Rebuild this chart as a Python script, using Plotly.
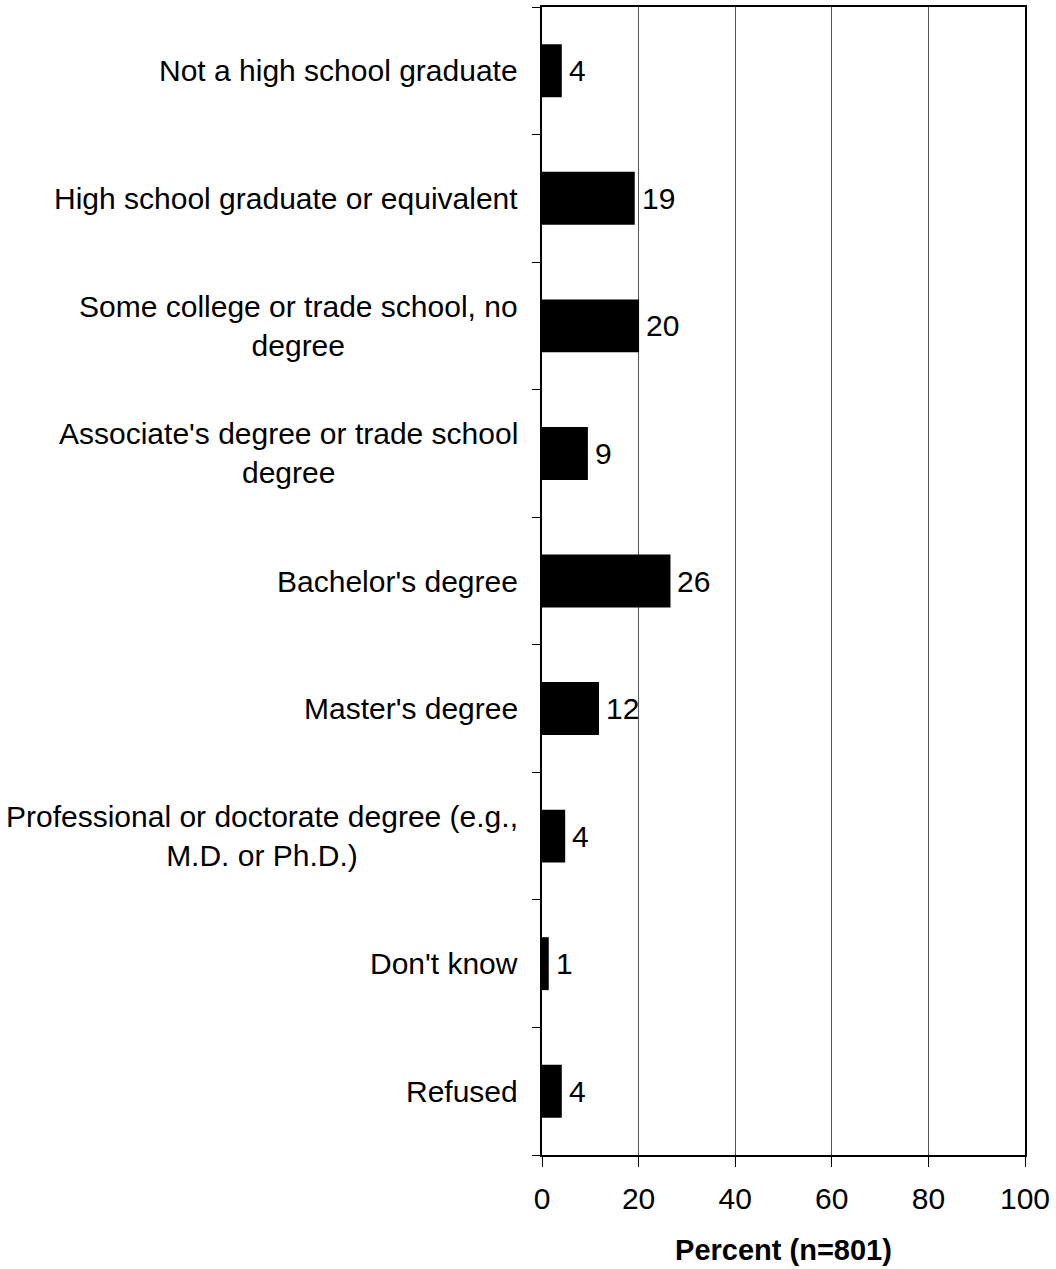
import plotly.graph_objects as go

categories = [
    "Not a high school graduate",
    "High school graduate or equivalent",
    "Some college or trade school, no<br>degree",
    "Associate's degree or trade school<br>degree",
    "Bachelor's degree",
    "Master's degree",
    "Professional or doctorate degree (e.g.,<br>M.D. or Ph.D.)",
    "Don't know",
    "Refused",
]
values = [4.1, 19.2, 20.1, 9.5, 26.6, 11.8, 4.8, 1.4, 4.1]
value_labels = ["4", "19", "20", "9", "26", "12", "4", "1", "4"]
x_ticks = [0, 20, 40, 60, 80, 100]
x_title = "Percent (n=801)"

FONT = "Liberation Sans, Arial, sans-serif"
FS = 30

fig = go.Figure()
fig.add_trace(go.Bar(
    x=values, y=list(range(len(categories))), orientation="h",
    marker=dict(color="black", line=dict(width=0)),
    hoverinfo="skip",
))

for i, (c, v, lab) in enumerate(zip(categories, values, value_labels)):
    fig.add_annotation(x=0, xref="paper", y=i, yref="y", text=c,
                       xanchor="right", yanchor="middle", align="center",
                       xshift=-22, showarrow=False,
                       font=dict(family=FONT, size=FS, color="black"))
    fig.add_annotation(x=v, xref="x", y=i, yref="y", text=lab,
                       xanchor="left", yanchor="middle", xshift=5,
                       showarrow=False,
                       font=dict(family=FONT, size=FS, color="black"))

fig.update_layout(
    width=1056, height=1269,
    margin=dict(l=542, r=31, t=7, b=114),
    paper_bgcolor="white", plot_bgcolor="white",
    bargap=0.585, showlegend=False,
    font=dict(family=FONT, size=FS, color="black"),
)
fig.update_xaxes(
    range=[0, 100], tickvals=x_ticks, ticktext=[str(t) for t in x_ticks],
    ticks="outside", ticklen=10, tickwidth=1, tickcolor="black",
    ticklabelstandoff=6, automargin=False,
    showgrid=True, gridcolor="#555555", gridwidth=1,
    showline=True, linecolor="black", linewidth=2, mirror=True,
    zeroline=False,
    tickfont=dict(family=FONT, size=FS, color="black"),
    title=dict(text="<b>" + x_title + "</b>", standoff=26,
               font=dict(family=FONT, size=29, color="black")),
)
fig.update_yaxes(
    type="linear", range=[len(categories) - 0.5, -0.5],
    tickvals=[i - 0.5 for i in range(len(categories) + 1)],
    showticklabels=False, automargin=False,
    ticks="outside", ticklen=8, tickwidth=1, tickcolor="black",
    showgrid=False, zeroline=False,
    showline=True, linecolor="black", linewidth=2, mirror=True,
)

fig.write_html("out.html", config={"displayModeBar": False},
               post_script="document.body.style.margin='0';")
